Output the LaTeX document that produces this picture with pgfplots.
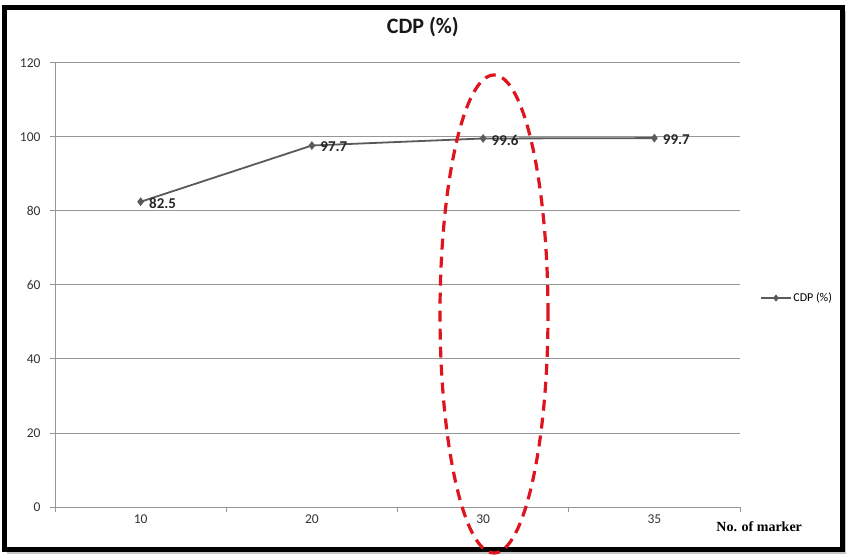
\documentclass[border=0pt]{standalone}
\usepackage{pgfplots}
\pgfplotsset{compat=1.18}
\usepackage{fontspec}
\setmainfont{Carlito}
\newfontfamily\timesfont{Liberation Serif}
\definecolor{linegray}{RGB}{90,90,90}
\definecolor{axgray}{RGB}{150,150,150}
\definecolor{ellred}{RGB}{222,20,30}
\begin{document}
\begin{tikzpicture}
\path[use as bounding box] (0,0) rectangle (847pt,555pt);
\fill[white] (0,0) rectangle (847pt,555pt);
\fill[gray!45] (7pt,1.5pt) rectangle (846pt,544pt);
\fill[white] (4.5pt,5.5pt) rectangle (842.5pt,547.5pt);
\draw[line width=5pt] (4.5pt,5.5pt) rectangle (842.5pt,547.5pt);
\begin{axis}[
  at={(55pt,48pt)}, anchor=south west,
  scale only axis, width=685pt, height=444pt,
  xmin=-0.5, xmax=3.5, ymin=0, ymax=120,
  xtick={-0.5,0.5,1.5,2.5,3.5}, xticklabels={},
  extra x ticks={0,1,2,3}, extra x tick labels={10,20,30,35},
  extra x tick style={major tick length=0pt, grid=none},
  ytick={0,20,...,120},
  axis x line*=bottom, axis y line*=left,
  axis line style={axgray, line width=1pt, -},
  ymajorgrids, major grid style={axgray, line width=1pt},
  tick align=outside, major tick length=5pt,
  tick style={axgray, line width=1pt},
  /pgf/number format/assume math mode=true,
  ticklabel style={font=\fontsize{13.5}{13.5}\selectfont, text=black!80},
  yticklabel style={xshift=-6pt},
  xticklabel style={yshift=-4pt},
  title={CDP (\%)},
  title style={at={(axis description cs:0.537,1.0676)}, anchor=center, font=\bfseries\fontsize{22}{22}\selectfont, text=black!90},
  xlabel={No. of marker},
  xlabel style={at={(axis description cs:1.028,-0.045)}, anchor=center, font=\timesfont\bfseries\fontsize{14}{14}\selectfont},
  legend style={at={(axis description cs:1.029,0.4707)}, anchor=west, draw=none, fill=none, font=\fontsize{12}{12}\selectfont, inner sep=0pt, nodes={inner sep=1.5pt}},
  legend image code/.code={\draw[mark repeat=2,mark phase=2,#1,mark size=3.2pt] plot coordinates {(0pt,0pt)(15pt,0pt)(30pt,0pt)};},
  clip=false,
]
\addplot[linegray, line width=1.8pt, mark=diamond*, mark size=4pt,
  mark options={fill=linegray, draw=linegray, line width=0.5pt},
  nodes near coords={\pgfmathprintnumber[fixed,precision=1]{\pgfplotspointmeta}},
  nodes near coords style={anchor=west, xshift=5pt, yshift=-1.5pt, font=\bfseries\fontsize{15}{15}\selectfont, text=black!85}]
  coordinates {(0,82.5) (1,97.7) (2,99.6) (3,99.7)};
\legend{CDP (\%)}
\draw[ellred, line width=3.2pt, dash pattern=on 11pt off 7pt] (axis cs:2.0635,52.16) ellipse [x radius=54pt, y radius=239pt];
\end{axis}
\end{tikzpicture}
\end{document}
